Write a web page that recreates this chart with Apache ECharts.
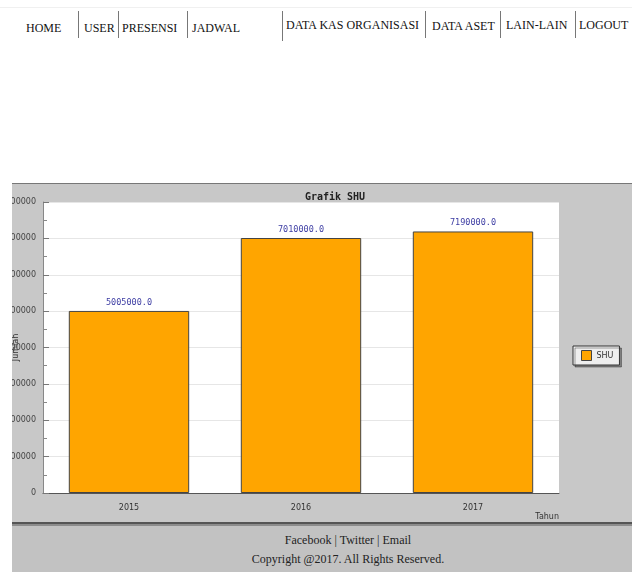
<!DOCTYPE html>
<html>
<head>
<meta charset="utf-8">
<title>Grafik SHU</title>
<script src="https://cdn.jsdelivr.net/npm/echarts@6/dist/echarts.min.js"></script>
<style>
  body { margin: 0; width: 632px; height: 572px; background: #fff; position: relative; overflow: hidden; }
  .nav { position: absolute; left: 0; top: 7px; width: 632px; height: 40px; border-top: 1px solid #f0f0f0; }
  .nav span { position: absolute; top: 13px; font: 12px "Liberation Serif", serif; color: #111; white-space: nowrap; }
  .nav i { position: absolute; top: 3px; width: 0; height: 27px; border-left: 1px solid #777; }
  #chart { position: absolute; left: 12px; top: 183px; width: 620px; height: 338px; border-top: 1px solid #777; }
  .line { position: absolute; left: 12px; top: 522px; width: 620px; height: 2px; background: #555; border-bottom: 2px solid #8c8c8c; }
  .footer { position: absolute; left: 12px; top: 526px; width: 620px; height: 46px; background: #c2c2c2;
    font: 12px "Liberation Serif", serif; color: #222; text-align: center; padding-left: 52px; box-sizing: border-box; }
  .footer div { line-height: 19px; }
</style>
</head>
<body>
<div class="nav">
  <span style="left:26px">HOME</span>
  <i style="left:78px"></i><span style="left:84px">USER</span>
  <i style="left:118px"></i><span style="left:122px">PRESENSI</span>
  <i style="left:187px"></i><span style="left:192px">JADWAL</span>
  <i style="left:282px;height:30px"></i><span style="left:286px;top:10px">DATA KAS ORGANISASI</span>
  <i style="left:425px"></i><span style="left:432px;top:11px">DATA ASET</span>
  <i style="left:500px"></i><span style="left:506px;top:10px">LAIN-LAIN</span>
  <i style="left:575px"></i><span style="left:579px;top:10px">LOGOUT</span>
</div>
<div id="chart"></div>
<div class="line"></div>
<div class="footer">
  <div style="padding-top:5px">Facebook | Twitter | Email</div>
  <div>Copyright @2017. All Rights Reserved.</div>
</div>
<script>
const years = ['2015', '2016', '2017']
const shu = [5005000, 7010000, 7190000]
const yMax = 8000000
const yStep = 1000000

var chart = echarts.init(document.getElementById('chart'))
var option = {
  backgroundColor: '#c8c8c8',
  animation: false,
  title: {
    text: 'Grafik SHU',
    left: 318,
    top: 3,
    textAlign: 'center',
    textStyle: { fontFamily: 'DejaVu Sans Mono', fontSize: 10, fontWeight: 'bold', color: '#222' }
  },
  legend: {
    data: ['SHU'],
    left: 561,
    top: 162,
    icon: 'rect',
    itemWidth: 10,
    itemHeight: 10,
    itemGap: 4,
    padding: [4, 6, 4, 8],
    backgroundColor: '#eeeeee',
    borderColor: '#333',
    borderWidth: 1,
    shadowColor: 'rgba(0,0,0,0.35)',
    shadowOffsetX: 2,
    shadowOffsetY: 2,
    shadowBlur: 0,
    itemStyle: { borderColor: '#444', borderWidth: 1 },
    textStyle: { fontFamily: 'DejaVu Sans', fontSize: 8, color: '#333' }
  },
  grid: {
    left: 31, right: 73, top: 18, bottom: 29,
    containLabel: false,
    outerBoundsMode: 'none',
    show: true,
    backgroundColor: '#fff',
    borderWidth: 0
  },
  xAxis: {
    type: 'category',
    data: years,
    name: 'Tahun',
    nameLocation: 'end',
    nameGap: 0,
    nameMoveOverlap: false,
    nameTextStyle: { align: 'right', verticalAlign: 'top', padding: [20, 0, 0, 0], fontFamily: 'DejaVu Sans', fontSize: 8, color: '#333' },
    axisLine: { lineStyle: { color: '#555' } },
    axisTick: { inside: true, length: 4, lineStyle: { color: '#555' } },
    axisLabel: { margin: 11, fontFamily: 'DejaVu Sans', fontSize: 8, color: '#333' }
  },
  yAxis: {
    type: 'value',
    min: 0,
    max: yMax,
    interval: yStep,
    name: 'Jumlah',
    nameLocation: 'middle',
    nameRotate: 90,
    nameGap: 23,
    nameMoveOverlap: false,
    nameTextStyle: { fontFamily: 'DejaVu Sans', fontSize: 8, color: '#333' },
    axisLine: { show: true, lineStyle: { color: '#888' } },
    axisTick: { show: true, inside: true, length: 6, lineStyle: { color: '#777' } },
    minorTick: { show: true, splitNumber: 2, length: 4, lineStyle: { color: '#888' } },
    splitLine: { lineStyle: { color: '#e6e6e6' } },
    axisLabel: {
      margin: 7,
      formatter: function (v) { return String(v) },
      fontFamily: 'DejaVu Sans', fontSize: 8, color: '#444'
    }
  },
  series: [
    {
      name: 'SHU',
      type: 'bar',
      barWidth: '70%',
      data: shu,
      itemStyle: { color: '#ffa500', borderColor: '#444', borderWidth: 1 },
      label: {
        show: true,
        position: 'top',
        distance: 4,
        formatter: function (p) { return p.value.toFixed(1) },
        fontFamily: 'DejaVu Sans Mono',
        fontSize: 8.5,
        color: '#3d3da3'
      }
    }
  ]
}
chart.setOption(option)
</script>
</body>
</html>
